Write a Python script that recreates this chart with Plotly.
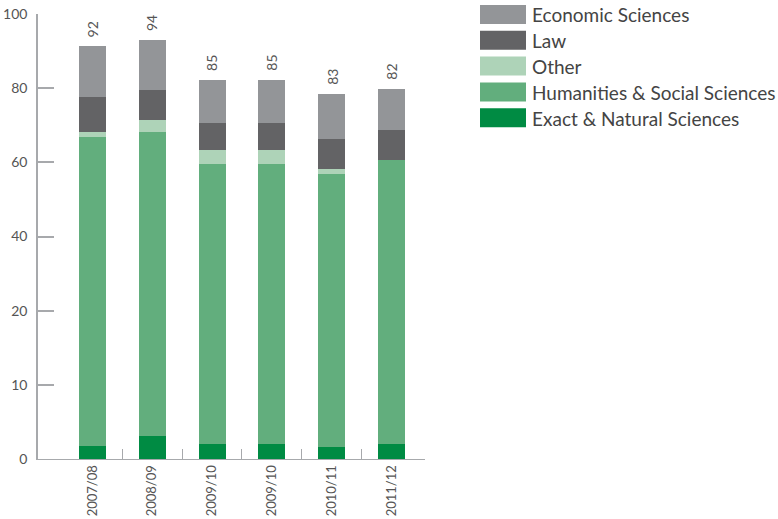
import plotly.graph_objects as go

years = ["2007/08", "2008/09", "2009/10", "2009/10", "2010/11", "2011/12"]
exact = [3.0, 5.2, 3.4, 3.4, 2.7, 3.4]
humanities = [69.4, 68.2, 63.0, 63.0, 61.4, 63.7]
other = [1.0, 2.7, 3.1, 3.1, 1.1, 0.0]
law = [7.9, 6.9, 5.9, 5.9, 6.8, 6.9]
economic = [11.5, 11.2, 9.8, 9.8, 10.0, 9.1]
total_labels = ["92", "94", "85", "85", "83", "82"]

y_tickvals = [0, 100 / 6, 200 / 6, 50, 400 / 6, 500 / 6, 100]
y_ticktext = ["0", "10", "20", "40", "60", "80", "100"]

series = [
    ("Exact & Natural Sciences", exact, "#008b43"),
    ("Humanities & Social Sciences", humanities, "#62ae7d"),
    ("Other", other, "#aed3b8"),
    ("Law", law, "#636365"),
    ("Economic Sciences", economic, "#939598"),
]

W, H = 778, 519
ML, MR, MT, MB = 38, 353, 14, 60
PW = W - ML - MR
PH = H - MT - MB

FONT = "Lato, 'Open Sans', sans-serif"
x = list(range(len(years)))

fig = go.Figure()
for name, vals, col in series:
    fig.add_trace(go.Bar(x=x, y=vals, name=name, marker=dict(color=col, line=dict(width=0)),
                         width=0.45, showlegend=False))

totals = [sum(v) for v in zip(exact, humanities, other, law, economic)]
for i, (t, lab) in enumerate(zip(totals, total_labels)):
    fig.add_annotation(x=i, y=t, text=lab, showarrow=False, textangle=-90,
                       yanchor="bottom", xanchor="center", yshift=7,
                       font=dict(family=FONT, size=14, color="#555555"))

# custom legend (top to bottom)
def px_x(p):
    return (p - ML) / PW

def px_y(p):
    return 1 - (p - MT) / PH

row_top = 5
row_step = 25.8
for k, (name, vals, col) in enumerate(reversed(series)):
    top = row_top + k * row_step
    fig.add_shape(type="rect", xref="paper", yref="paper",
                  x0=px_x(480), x1=px_x(526), y0=px_y(top + 19), y1=px_y(top),
                  fillcolor=col, line=dict(width=0))
    fig.add_annotation(xref="paper", yref="paper", x=px_x(530), y=px_y(top + 10),
                       text=name, showarrow=False, xanchor="left", yanchor="middle",
                       font=dict(family=FONT, size=19, color="#444444"))

fig.update_layout(
    width=W, height=H,
    margin=dict(l=ML, r=MR, t=MT, b=MB, autoexpand=False),
    barmode="stack",
    plot_bgcolor="white", paper_bgcolor="white",
    font=dict(family=FONT, color="#555555"),
    showlegend=False,
)
fig.update_xaxes(
    range=[-0.91, 5.56], tickmode="array", tickvals=x, ticktext=years,
    tickangle=-90, ticks="", showgrid=False, zeroline=False, automargin=False,
    showline=True, linecolor="#a7a9ac", linewidth=1,
    tickfont=dict(family=FONT, size=13, color="#555555"),
    minor=dict(tickmode="array", tickvals=[0.5, 1.5, 2.5, 3.5, 4.5], ticks="inside",
               ticklen=10, tickcolor="#a7a9ac", tickwidth=1, showgrid=False),
)
fig.update_yaxes(
    range=[0, 100], tickmode="array", tickvals=y_tickvals, ticktext=y_ticktext,
    ticks="inside", ticklen=16, tickcolor="#a7a9ac", tickwidth=1.5, automargin=False,
    showgrid=False, zeroline=False, showline=True, linecolor="#a7a9ac", linewidth=1.5,
    tickfont=dict(family=FONT, size=14, color="#555555"), ticklabelstandoff=6,
)

fig.write_html("out.html", config={"displayModeBar": False},
               post_script="document.body.style.margin='0';document.body.style.overflow='hidden';")
